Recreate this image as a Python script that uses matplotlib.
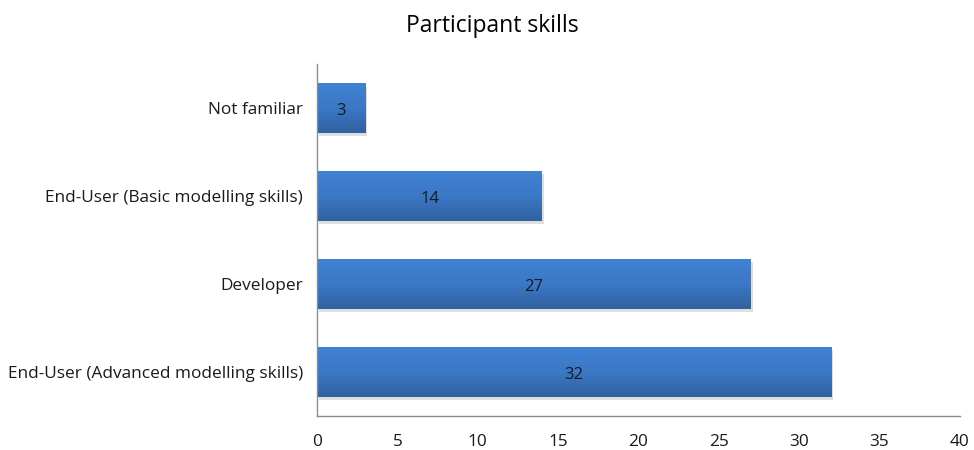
import matplotlib
matplotlib.use("Agg")
import matplotlib.pyplot as plt
import numpy as np
from matplotlib.colors import LinearSegmentedColormap

categories = ["End-User (Advanced modelling skills)", "Developer",
              "End-User (Basic modelling skills)", "Not familiar"]
counts = [32, 27, 14, 3]
xticks = [0, 5, 10, 15, 20, 25, 30, 35, 40]

plt.rcParams['font.family'] = ['Open Sans', 'DejaVu Sans']

fig = plt.figure(figsize=(9.74, 4.5), dpi=100)
ax = fig.add_axes([0.3255, 0.0756, 0.66, 0.782])

grad = LinearSegmentedColormap.from_list("bar", ["#30609f", "#3b78c6", "#4182d3"])
img = np.linspace(0, 1, 256).reshape(-1, 1)

ypos = np.arange(len(categories))
bars = ax.barh(ypos, counts, height=0.56, color="none", edgecolor="none")
for b, v in zip(bars, counts):
    x0, y0, w, h = b.get_x(), b.get_y(), b.get_width(), b.get_height()
    # soft shadow
    ax.add_patch(plt.Rectangle((x0 + 0.12, y0 - 0.035), w, h, color="#c8c8c8",
                               alpha=0.6, zorder=1, lw=0))
    im = ax.imshow(img, extent=[x0, x0 + w, y0, y0 + h], cmap=grad,
                   aspect="auto", origin="lower", zorder=2)
    im.set_clip_path(b)
    ax.text(x0 + w / 2, y0 + h / 2 - 0.03, str(v), ha="center", va="center",
            fontsize=12, color="#1a1a1a", zorder=3)

ax.set_xlim(0, 40)
ax.set_ylim(-0.5, 3.5)
ax.set_xticks(xticks)
ax.set_yticks(ypos)
ax.set_yticklabels(categories)
ax.tick_params(axis="both", length=0, labelsize=12.4, colors="#1a1a1a")
ax.tick_params(axis="x", pad=13)
ax.tick_params(axis="y", pad=10)
for s in ["top", "right"]:
    ax.spines[s].set_visible(False)
for s in ["left", "bottom"]:
    ax.spines[s].set_color("#8c8c8c")
    ax.spines[s].set_linewidth(1.0)

fig.suptitle("Participant skills", fontsize=16.5, x=0.505, y=0.97)

fig.savefig("out.png", dpi=100)
